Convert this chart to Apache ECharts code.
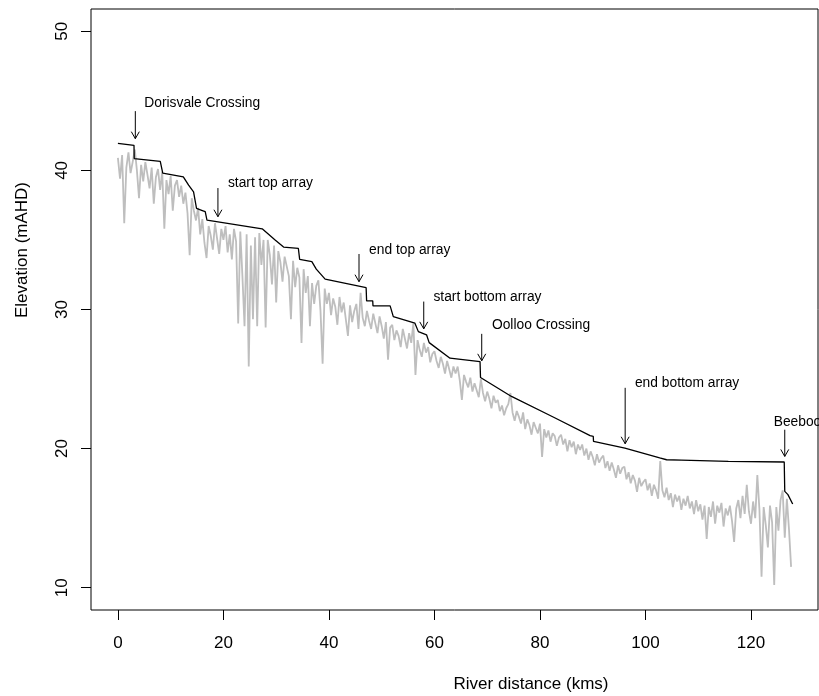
<!DOCTYPE html>
<html><head><meta charset="utf-8">
<script src="https://cdn.jsdelivr.net/npm/echarts@6/dist/echarts.min.js"></script>
<style>html,body{margin:0;padding:0;background:#fff}#c{width:819px;height:696px}</style>
</head><body><div id="c"></div>
<script>
// ---- data ----
const xTicks = [0, 20, 40, 60, 80, 100, 120];
const yTicks = [10, 20, 30, 40, 50];

// water surface profile (black)
const waterKm = [0, 3.05, 3.09, 8.03, 8.5, 12.4, 13.4, 14.34, 14.9, 16.0, 16.55, 16.88, 27.35, 29.8, 31.4, 34.2, 34.45, 36.76, 37.6, 39.28, 47.05, 47.14, 48.3, 48.35, 51.6, 52.2, 56.3, 56.95, 58.5, 59.0, 62.95, 68.64, 68.73, 74.6, 82.5, 89.5, 90.1, 90.15, 96.1, 102.7, 104.0, 106.8, 115.7, 126.3, 126.4, 127.0, 127.9];
const waterElev = [41.94, 41.80, 40.85, 40.65, 39.81, 39.54, 38.94, 38.46, 37.27, 37.11, 37.03, 36.43, 35.80, 35.0, 34.49, 34.40, 33.60, 33.44, 32.9, 32.18, 31.57, 30.62, 30.62, 30.26, 30.26, 29.49, 29.02, 28.41, 28.18, 27.62, 26.50, 26.26, 25.11, 23.75, 22.27, 20.93, 20.88, 20.52, 20.04, 19.33, 19.20, 19.17, 19.08, 19.04, 16.93, 16.69, 16.02];

// river bed profile (grey), sampled every 0.4 km from 0
const bedSpacingKm = 0.4;
const bedElev = [
  40.9, 39.4, 41.1, 36.2, 40.2, 41.3, 39.8, 40.6, 41.5, 40.0,
  38.0, 40.4, 39.2, 40.6, 39.7, 38.7, 40.2, 37.6, 39.5, 40.1,
  38.6, 39.9, 35.8, 39.3, 38.3, 39.6, 37.1, 38.9, 39.3, 38.1,
  38.9, 37.6, 38.4, 36.9, 33.9, 38.0, 37.1, 36.4, 37.3, 35.4,
  36.5, 34.8, 33.7, 36.0, 35.3, 34.3, 36.2, 35.1, 34.0, 35.8,
  35.0, 36.0, 34.1, 35.4, 33.6, 35.8, 34.9, 29.0, 35.6, 32.4,
  28.8, 35.4, 25.9, 34.6, 29.3, 35.2, 28.8, 35.5, 33.2, 35.0,
  28.7, 35.0, 33.9, 31.8, 34.6, 30.5, 34.2, 33.4, 32.0, 33.8,
  33.1, 32.4, 29.3, 33.5, 31.6, 33.0, 32.3, 27.6, 32.9, 31.2,
  32.4, 28.8, 31.9, 30.4, 31.7, 32.1, 29.9, 26.1, 31.5, 30.4,
  31.2, 29.6, 30.8, 30.2, 28.9, 30.9, 29.8, 30.5, 29.3, 28.1,
  30.3, 29.1, 29.9, 30.4, 28.6, 31.2, 29.4, 28.8, 29.9, 29.2,
  28.6, 29.7, 29.0, 28.3, 29.5, 28.8, 27.9, 29.1, 26.4, 28.7,
  28.9, 27.8, 28.5, 28.1, 27.3, 28.6, 27.9, 27.2, 28.3, 27.6,
  29.0, 25.3, 27.8, 27.1, 26.6, 27.6, 26.9, 27.3, 26.2, 26.8,
  27.0, 26.3, 25.8, 26.6, 26.1, 25.4, 26.3, 25.7, 25.1, 25.9,
  25.4, 25.9, 24.9, 23.5, 25.3, 24.8, 24.4, 25.1, 24.1, 24.7,
  24.2, 23.7, 25.0, 24.0, 23.4, 24.1, 23.6, 22.9, 23.8, 23.3,
  23.5, 22.7, 23.1, 22.4, 22.9, 23.2, 24.0, 22.6, 22.0, 22.7,
  22.3, 21.8, 22.6, 21.4, 22.1, 21.7, 21.0, 21.9, 21.5, 21.1,
  21.8, 19.4, 21.4, 20.8, 21.3, 20.5, 21.1, 20.9, 20.2, 20.8,
  21.0, 20.3, 20.7, 19.8, 20.6, 20.1, 20.5, 19.6, 20.3, 19.9,
  20.3, 19.5, 20.0, 19.2, 19.8, 19.4, 18.8, 19.6, 19.0, 19.3,
  19.5, 18.6, 19.1, 18.4, 19.0, 18.5, 17.9, 18.8, 18.2, 18.6,
  18.7, 17.8, 18.3, 17.5, 18.1, 17.7, 16.9, 17.9, 17.3, 17.6,
  17.8, 17.0, 17.5, 16.6, 17.4, 17.0, 16.4, 19.1, 17.0, 16.5,
  17.2, 16.3, 16.8, 15.8, 16.7, 16.2, 16.6, 15.6, 16.4, 15.9,
  16.6, 15.7, 16.2, 15.3, 16.3, 15.5, 16.0, 14.9, 15.9, 13.5,
  15.8, 15.1, 16.2, 14.6, 15.9, 15.4, 16.1, 14.4, 15.7, 15.2,
  15.9, 14.8, 13.3, 15.7, 16.3, 15.0, 16.6, 15.3, 17.4, 15.5,
  14.6, 16.2, 15.0, 18.1, 15.6, 10.8, 15.8, 14.5, 12.9, 15.9,
  14.7, 10.2, 15.8, 14.1, 16.3, 17.0, 13.6, 16.4, 14.2, 11.5
];

// annotations
const annLabels = ['Dorisvale Crossing', 'start top array', 'end top array', 'start bottom array', 'Oolloo Crossing', 'end bottom array', 'Beeboom Crossing'];
const annKm = [3.3, 18.96, 45.7, 57.97, 68.96, 96.15, 126.4];
const annTopElev = [44.26, 38.73, 33.99, 30.57, 28.25, 24.37, 21.36];
const annTipElev = [42.28, 36.67, 32.0, 28.61, 26.31, 20.35, 19.44];
const annTextKm = [5.0, 20.85, 47.6, 59.8, 70.9, 98.0, 124.3];
const annTextElev = [44.85, 39.09, 34.28, 30.85, 28.84, 24.73, 21.91];

// ---- chart ----
const FONT = '"Liberation Sans", Arial, Helvetica, sans-serif';
const waterData = waterKm.map((k, i) => [k, waterElev[i]]);
const bedData = bedElev.map((v, i) => [+(i * bedSpacingKm).toFixed(2), v]);
const annData = annLabels.map((l, i) => [annKm[i], annTopElev[i], annTipElev[i], annTextKm[i], annTextElev[i]]);

const chart = echarts.init(document.getElementById('c'), null, {renderer: 'canvas'});
chart.setOption({
  animation: false,
  backgroundColor: '#fff',
  grid: {left: 91, right: 1, top: 9, bottom: 86, show: true, borderColor: '#000', borderWidth: 1, backgroundColor: 'transparent'},
  xAxis: {
    type: 'value', min: -5.1, max: 132.7,
    axisLine: {show: false, onZero: false},
    splitLine: {show: false},
    axisTick: {show: true, customValues: xTicks, length: 10, lineStyle: {color: '#000', width: 1}},
    axisLabel: {show: true, customValues: xTicks, color: '#000', fontSize: 17, fontFamily: FONT, margin: 25}
  },
  yAxis: {
    type: 'value', min: 8.4, max: 51.6,
    axisLine: {show: false, onZero: false},
    splitLine: {show: false},
    axisTick: {show: true, customValues: yTicks, length: 10, lineStyle: {color: '#000', width: 1}},
    axisLabel: {show: true, customValues: yTicks, color: '#000', fontSize: 17, fontFamily: FONT, margin: 20, rotate: 90}
  },
  graphic: [
    {type: 'text', x: 531, y: 684, style: {text: 'River distance (kms)', font: '17px ' + FONT, fill: '#000', textAlign: 'center', textVerticalAlign: 'middle'}},
    {type: 'text', x: 22, y: 250, rotation: Math.PI / 2, style: {text: 'Elevation (mAHD)', font: '17px ' + FONT, fill: '#000', textAlign: 'center', textVerticalAlign: 'middle'}}
  ],
  series: [
    {type: 'line', data: bedData, showSymbol: false, symbol: 'none', lineStyle: {color: '#BEBEBE', width: 1.8}, z: 2},
    {type: 'line', data: waterData, showSymbol: false, symbol: 'none', lineStyle: {color: '#000', width: 1.3}, z: 3},
    {
      type: 'custom', data: annData, z: 4, silent: true,
      renderItem: function (params, api) {
        const top = api.coord([api.value(0), api.value(1)]);
        const tip = api.coord([api.value(0), api.value(2)]);
        const tp = api.coord([api.value(3), api.value(4)]);
        const label = annLabels[params.dataIndex];
        return {
          type: 'group',
          children: [
            {type: 'line', shape: {x1: top[0], y1: top[1], x2: tip[0], y2: tip[1]}, style: {stroke: '#000', lineWidth: 1}},
            {type: 'polyline', shape: {points: [[tip[0] - 4, tip[1] - 7], [tip[0], tip[1]], [tip[0] + 4, tip[1] - 7]]}, style: {stroke: '#000', lineWidth: 1, fill: null}},
            {type: 'text', x: tp[0], y: tp[1], style: {text: label, font: '13.8px ' + FONT, fill: '#000', textAlign: 'left', textVerticalAlign: 'middle'}}
          ]
        };
      }
    }
  ]
});
</script>
</body></html>
